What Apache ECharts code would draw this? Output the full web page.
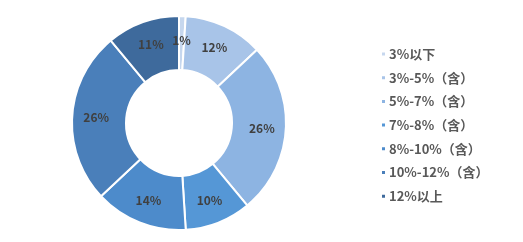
<!DOCTYPE html>
<html><head><meta charset="utf-8">
<script src="https://cdn.jsdelivr.net/npm/echarts@6/dist/echarts.min.js"></script>
<style>html,body{margin:0;padding:0;background:#fff}#c{width:523px;height:242px}</style>
</head><body><div id="c"></div>
<script>
const categories = ['3%以下','3%-5%（含）','5%-7%（含）','7%-8%（含）','8%-10%（含）','10%-12%（含）','12%以上'];
const values = [1,12,26,10,14,26,11];
const colors = ['#c6d7ee','#a8c4e8','#8db4e2','#5597d6','#4d8bcb','#4a7fba','#3e6a9c'];
const chart = echarts.init(document.getElementById('c'));
chart.setOption({
  animation:false,
  textStyle:{fontFamily:'"Microsoft YaHei","Noto Sans CJK SC",sans-serif'},
  legend:{orient:'vertical',left:375,top:42,itemWidth:5,itemHeight:5,itemGap:9.7,icon:'rect',
    textStyle:{fontSize:13,fontWeight:'bold',color:'#595959',lineHeight:14,padding:[0,0,0,-2]},
    data:categories},
  series:[{type:'pie',center:[179,123],radius:[53,107],startAngle:90,clockwise:true,
    itemStyle:{borderColor:'#fff',borderWidth:2},
    label:{position:'inside',formatter:'{c}%',fontSize:12,fontWeight:'bold',color:'#404040'},
    labelLine:{show:false},
    data:categories.map((n,i)=>({name:n,value:values[i],itemStyle:{color:colors[i]}}))}]
});
</script></body></html>
